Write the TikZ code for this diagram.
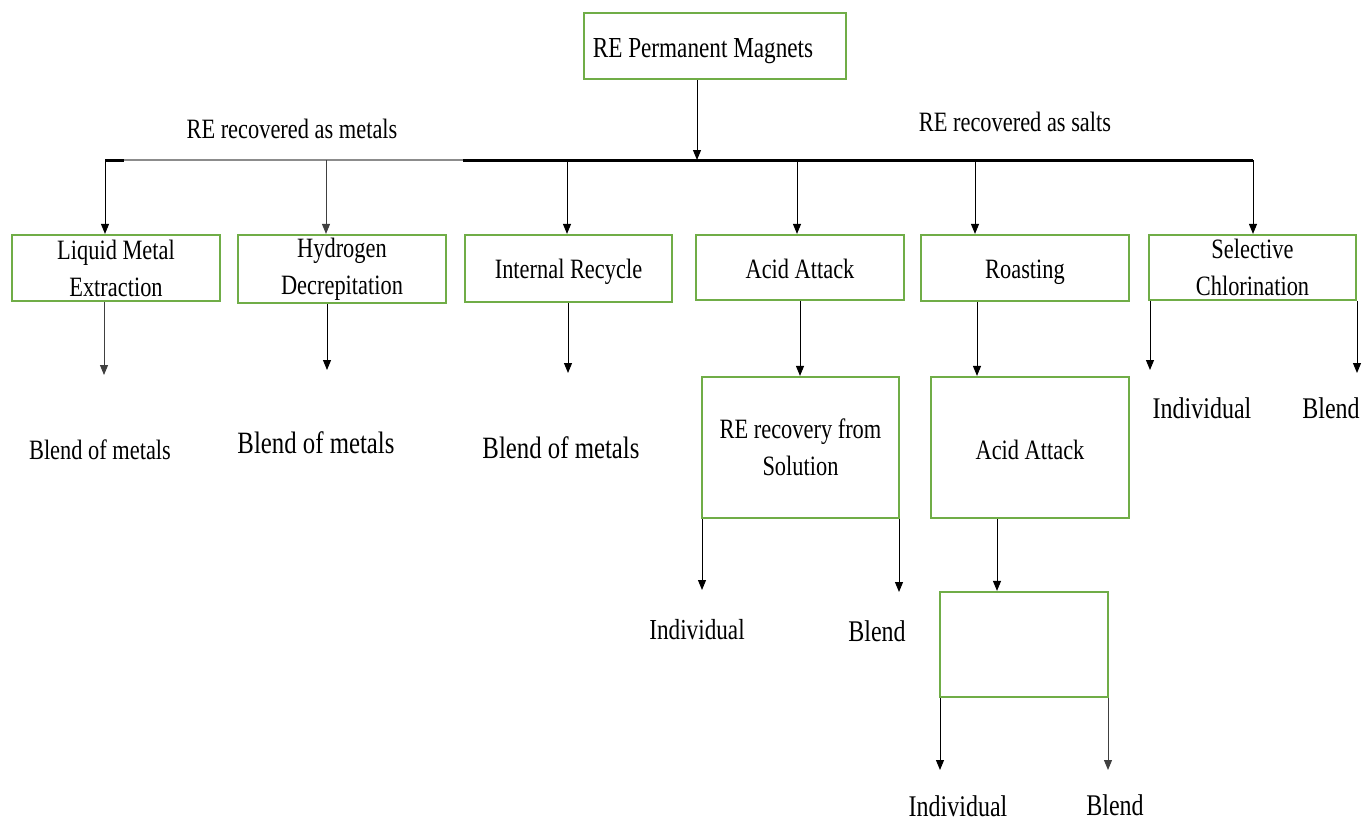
\documentclass[tikz,border=0pt]{standalone}
\usepackage{fontspec}
\setmainfont{Liberation Serif}[FakeStretch=0.8]
\usetikzlibrary{arrows.meta}
\definecolor{boxgreen}{RGB}{112,173,71}
\newcommand\fsx[1]{\fontsize{#1}{37}\selectfont}
% shift text down without changing the size the box reports
\newcommand\lowr[2]{\raisebox{-#1}[\height][\depth]{#2}}
\begin{document}
\begin{tikzpicture}[x=1pt,y=-1pt,
  box/.style={draw=boxgreen, line width=2.2pt, inner sep=0pt, align=center, font=\fsx{28}},
  lbl/.style={inner sep=0pt, align=center},
  arr/.style={draw=black, line width=1pt, -{Triangle[length=10pt,width=8pt]}},
  bar/.style={line width=3pt, black},
  thinbar/.style={line width=1.2pt, black!45}]
\useasboundingbox (0,0) rectangle (1365,823);

% main source box
\node[box, minimum width=262pt, minimum height=66pt, font=\fsx{29}] (top) at (715,46) {\hspace*{-24pt}\lowr{5pt}{RE Permanent Magnets}};

% branch labels
\node[lbl, font=\fsx{28}] (metals) at (292,129) {RE recovered as metals};
\node[lbl, font=\fsx{28}] (salts) at (1015,122) {RE recovered as salts};

% distribution bar
\coordinate (barL) at (105,160);
\coordinate (barG) at (124,160);
\coordinate (barM) at (463,160);
\coordinate (barR) at (1253,160);
\coordinate (barC) at (697,160);
\draw[thinbar] (barG) -- (barM);
\draw[bar] (barL) -- (barG);
\draw[bar] (barM) -- (barR);
\draw[arr] (barC |- top.south) -- (barC);

% first row of process boxes
\node[box, minimum width=208pt, minimum height=66pt] (lme) at (116,268) {Liquid Metal\\Extraction};
\node[box, minimum width=208pt, minimum height=68pt] (hyd) at (342,269) {Hydrogen\\Decrepitation};
\node[box, minimum width=207pt, minimum height=67pt] (irc) at (568.5,268.5) {\lowr{3pt}{Internal Recycle}};
\node[box, minimum width=208pt, minimum height=65pt] (aca) at (800,267.5) {\lowr{1pt}{Acid Attack}};
\node[box, minimum width=208pt, minimum height=66pt] (roa) at (1025,268) {\lowr{4pt}{Roasting}};
\node[box, minimum width=207pt, minimum height=65pt] (sel) at (1252.5,267.5) {Selective\\Chlorination};

% drops from the bar
\coordinate (d1) at (105,160);
\coordinate (d2) at (326,160);
\coordinate (d3) at (567,160);
\coordinate (d4) at (797,160);
\coordinate (d5) at (975,160);
\coordinate (d6) at (1253,160);
\draw[arr] (d1) -- (d1 |- lme.north);
\draw[arr, draw=black!75] (d2) -- (d2 |- hyd.north);
\draw[arr] (d3) -- (d3 |- irc.north);
\draw[arr] (d4) -- (d4 |- aca.north);
\draw[arr] (d5) -- (d5 |- roa.north);
\draw[arr] (d6) -- (d6 |- sel.north);

% metal products
\coordinate (e1) at (104,375);
\coordinate (e2) at (327,370);
\coordinate (e3) at (568,373);
\draw[arr, draw=black!75] (e1 |- lme.south) -- (e1);
\draw[arr] (e2 |- hyd.south) -- (e2);
\draw[arr] (e3 |- irc.south) -- (e3);
\node[lbl, font=\fsx{28}] (bm1) at (100,450) {Blend of metals};
\node[lbl, font=\fsx{31}] (bm2) at (316,443) {Blend of metals};
\node[lbl, font=\fsx{31}] (bm3) at (561,448) {Blend of metals};

% acid attack branch
\node[box, minimum width=197pt, minimum height=141pt] (rec) at (800.5,447.5) {RE recovery from\\Solution};
\coordinate (a1) at (800,300);
\draw[arr] (a1 |- aca.south) -- (a1 |- rec.north);
\coordinate (r1) at (702,590);
\coordinate (r2) at (899,592);
\draw[arr] (r1 |- rec.south) -- (r1);
\draw[arr] (r2 |- rec.south) -- (r2);
\node[lbl, font=\fsx{29}] (ind1) at (697,630) {Individual};
\node[lbl, font=\fsx{30}] (bl1) at (877,631) {Blend};

% roasting branch
\node[box, minimum width=198pt, minimum height=141pt] (aa2) at (1030,447.5) {\lowr{2pt}{Acid Attack}};
\coordinate (q1) at (977,300);
\draw[arr] (q1 |- roa.south) -- (q1 |- aa2.north);
\node[box, minimum width=168pt, minimum height=105pt] (emp) at (1024,644.5) {};
\coordinate (q2) at (997,500);
\draw[arr] (q2 |- aa2.south) -- (q2 |- emp.north);
\coordinate (s1) at (940,770);
\coordinate (s2) at (1108,770);
\draw[arr] (s1 |- emp.south) -- (s1);
\draw[arr, draw=black!75] (s2 |- emp.south) -- (s2);
\node[lbl, font=\fsx{30}] (ind2) at (958,806) {Individual};
\node[lbl, font=\fsx{30}] (bl2) at (1115,805) {Blend};

% selective chlorination branch
\coordinate (c1) at (1150,370);
\coordinate (c2) at (1357,373);
\draw[arr] (c1 |- sel.south) -- (c1);
\draw[arr] (c2 |- sel.south) -- (c2);
\node[lbl, font=\fsx{30}] (ind3) at (1202,408) {Individual};
\node[lbl, font=\fsx{30}] (bl3) at (1331,408) {Blend};
\end{tikzpicture}
\end{document}
